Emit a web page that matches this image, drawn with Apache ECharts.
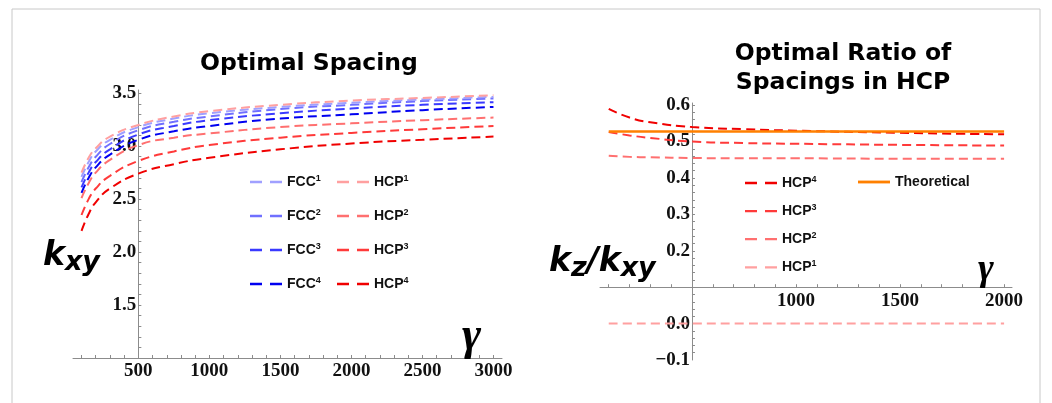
<!DOCTYPE html>
<html>
<head>
<meta charset="utf-8">
<script src="https://cdn.jsdelivr.net/npm/echarts@6/dist/echarts.min.js"></script>
<style>
html,body{margin:0;padding:0;background:#fff;}
#chart{width:1052px;height:403px;}
</style>
</head>
<body>
<div id="chart"></div>
<script>
// left panel: optimal spacing k_xy vs gamma
var gammaL = [100, 150, 200, 300, 500, 750, 1000, 1500, 2000, 2500, 3000];
var fcc1 = [2.71, 2.85, 2.95, 3.06, 3.18, 3.26, 3.31, 3.37, 3.41, 3.44, 3.465];
var fcc2 = [2.66, 2.80, 2.90, 3.02, 3.15, 3.23, 3.28, 3.35, 3.39, 3.425, 3.45];
var fcc3 = [2.61, 2.75, 2.85, 2.97, 3.11, 3.19, 3.245, 3.31, 3.355, 3.39, 3.415];
var fcc4 = [2.56, 2.70, 2.80, 2.92, 3.06, 3.14, 3.19, 3.26, 3.30, 3.34, 3.37];
var hcp1 = [2.75, 2.89, 2.98, 3.09, 3.20, 3.28, 3.33, 3.39, 3.43, 3.455, 3.48];
var hcp2 = [2.51, 2.65, 2.75, 2.87, 3.01, 3.08, 3.12, 3.18, 3.215, 3.245, 3.27];
var hcp3 = [2.35, 2.50, 2.60, 2.72, 2.86, 2.95, 3.01, 3.08, 3.125, 3.16, 3.19];
var hcp4 = [2.20, 2.36, 2.47, 2.60, 2.74, 2.83, 2.89, 2.97, 3.025, 3.06, 3.09];

// right panel: ratio k_z/k_xy vs gamma
var gammaR = [100, 200, 300, 500, 750, 1000, 1500, 2000];
var ratio4 = [0.59, 0.566, 0.553, 0.54, 0.534, 0.53, 0.524, 0.52];
var ratio3 = [0.526, 0.517, 0.51, 0.5, 0.496, 0.494, 0.491, 0.489];
var ratio2 = [0.461, 0.458, 0.457, 0.455, 0.454, 0.454, 0.453, 0.453];
var ratio1 = [0, 0, 0, 0, 0, 0, 0, 0];
var theory = [0.528, 0.528, 0.528, 0.528, 0.528, 0.528, 0.528, 0.528];

// ticks and labels
var xTicksL = [100,200,300,400,500,600,700,800,900,1000,1100,1200,1300,1400,1500,1600,1700,1800,1900,2000,2100,2200,2300,2400,2500,2600,2700,2800,2900,3000];
var xLabelsL = [500, 1000, 1500, 2000, 2500, 3000];
var yTicksL = [1.1,1.2,1.3,1.4,1.5,1.6,1.7,1.8,1.9,2.0,2.1,2.2,2.3,2.4,2.5,2.6,2.7,2.8,2.9,3.0,3.1,3.2,3.3,3.4,3.5];
var yLabelsL = [1.5, 2.0, 2.5, 3.0, 3.5];
var xTicksR = [100,200,300,400,500,600,700,800,900,1000,1100,1200,1300,1400,1500,1600,1700,1800,1900,2000];
var xLabelsR = [1000, 1500, 2000];
var yTicksR = [-0.08,-0.06,-0.04,-0.02,0,0.02,0.04,0.06,0.08,0.1,0.12,0.14,0.16,0.18,0.2,0.22,0.24,0.26,0.28,0.3,0.32,0.34,0.36,0.38,0.4,0.42,0.44,0.46,0.48,0.5,0.52,0.54,0.56,0.58,0.6];
var yLabelsR = [-0.1, 0, 0.2, 0.3, 0.4, 0.5, 0.6];

function pairs(xs, ys) {
	var out = [];
	for (var i = 0; i < xs.length; i++) out.push([xs[i], ys[i]]);
	return out;
}

var axisGray = '#8c8c8c';
var tickFont = {fontFamily: 'Liberation Serif', fontWeight: 'bold', fontSize: 19, color: '#111'};

function xAxisCfg(grid, min, max, ticks, labels) {
	return {
		gridIndex: grid, type: 'value', min: min, max: max,
		axisLine: {show: true, onZero: false, lineStyle: {color: axisGray, width: 1}},
		axisTick: {show: true, inside: true, length: 3, customValues: ticks, lineStyle: {color: axisGray}},
		axisLabel: Object.assign({
			customValues: labels, margin: 4,
			formatter: function (v) { return String(v); }
		}, tickFont),
		splitLine: {show: false}
	};
}
function yAxisCfg(grid, min, max, ticks, labels) {
	return {
		gridIndex: grid, type: 'value', min: min, max: max,
		axisLine: {show: true, onZero: false, lineStyle: {color: axisGray, width: 1}},
		axisTick: {show: true, inside: true, length: 3, customValues: ticks, lineStyle: {color: axisGray}},
		axisLabel: Object.assign({
			customValues: labels, margin: 2,
			formatter: function (v) { return v.toFixed(1).replace('-', '\u2212'); }
		}, tickFont),
		splitLine: {show: false}
	};
}

function dashed(name, xi, xs, ys, color) {
	return {
		name: name, type: 'line', xAxisIndex: xi, yAxisIndex: xi,
		data: pairs(xs, ys), symbol: 'none', showSymbol: false,
		smooth: true, silent: true, animation: false,
		itemStyle: {color: color},
		lineStyle: {color: color, width: 2, type: [9, 5]}
	};
}

var C = {
	fcc1: '#a0a0ff', fcc2: '#7070ff', fcc3: '#3a3aff', fcc4: '#0000f0',
	hcp1: '#ffa0a0', hcp2: '#ff7070', hcp3: '#ff3a3a', hcp4: '#f00000'
};

var legendText = {
	color: '#111',
	rich: {
		b: {fontFamily: 'Liberation Sans', fontWeight: 'bold', fontSize: 14, lineHeight: 16, color: '#111'},
		s: {fontFamily: 'Liberation Sans', fontWeight: 'bold', fontSize: 9, lineHeight: 10, verticalAlign: 'top', color: '#111'}
	}
};
function supName(name) {
	if (name === 'Theoretical') return '{b|' + name + '}';
	return '{b|' + name.slice(0, -1) + '}{s|' + name.slice(-1) + '}';
}
var dashIcon = 'path://M0,0h12v2.3h-12zM20,0h12v2.3h-12z';
var solidIcon = 'path://M0,0h34v3h-34z';
function legendCfg(names, icon, left, top, gap) {
	return {
		orient: 'vertical', left: left, top: top, padding: 0,
		itemWidth: 32, itemHeight: 14, itemGap: gap, icon: icon,
		data: names, formatter: supName, textStyle: legendText,
		selectedMode: false
	};
}

var labelRich = {
	k: {fontFamily: 'DejaVu Sans', fontWeight: 'bold', fontStyle: 'italic', fontSize: 33, lineHeight: 36, verticalAlign: 'top', color: '#000'},
	s: {fontFamily: 'DejaVu Sans', fontWeight: 'bold', fontStyle: 'italic', fontSize: 27, lineHeight: 26, verticalAlign: 'bottom', color: '#000'}
};
var titleStyle = {fontFamily: 'DejaVu Sans', fontWeight: 'bold', fontSize: 23.5, lineHeight: 29, color: '#000'};
var gammaStyle = {fontFamily: 'Liberation Serif', fontStyle: 'italic', fontWeight: 'bold', color: '#000'};

var chart = echarts.init(document.getElementById('chart'), null, {renderer: 'canvas'});

var option = {
	animation: false,
	backgroundColor: '#fff',
	graphic: [{
		type: 'rect', silent: true,
		shape: {x: 12, y: 9, width: 1028, height: 420},
		style: {fill: 'none', stroke: '#c8c8c8', lineWidth: 1}
	}],
	title: [
		{text: 'Optimal Spacing', left: 309, top: 49, textAlign: 'center', padding: 0, textStyle: titleStyle},
		{text: 'Optimal Ratio of\nSpacings in HCP', left: 843, top: 39, textAlign: 'center', padding: 0, textStyle: titleStyle},
		{text: '{k|k}{s|xy}', left: 43, top: 240, padding: 0, textStyle: {rich: labelRich}},
		{text: '{k|k}{s|z}{k|/k}{s|xy}', left: 549, top: 246, padding: 0, textStyle: {rich: labelRich}},
		{text: '\u03b3', left: 462, top: 314, padding: 0, textStyle: Object.assign({fontSize: 46, lineHeight: 46}, gammaStyle)},
		{text: '\u03b3', left: 978, top: 251, padding: 0, textStyle: Object.assign({fontSize: 38, lineHeight: 38}, gammaStyle)}
	],
	legend: [
		legendCfg(['FCC1', 'FCC2', 'FCC3', 'FCC4'], dashIcon, 250, 174, 19),
		legendCfg(['HCP1', 'HCP2', 'HCP3', 'HCP4'], dashIcon, 337, 174, 19),
		legendCfg(['HCP4', 'HCP3', 'HCP2', 'HCP1'], dashIcon, 745, 175, 13.1),
		legendCfg(['Theoretical'], solidIcon, 858, 175, 13.1)
	],
	grid: [
		{left: 73, top: 90, width: 429, height: 268, outerBoundsMode: 'none'},
		{left: 600, top: 103, width: 412, height: 257, outerBoundsMode: 'none'}
	],
	xAxis: [
		xAxisCfg(0, 40, 3060, xTicksL, xLabelsL),
		xAxisCfg(1, 58, 2038, xTicksR, xLabelsR)
	],
	yAxis: [
		yAxisCfg(0, 1.0, 3.53, yTicksL, yLabelsL),
		yAxisCfg(1, -0.1, 0.606, yTicksR, yLabelsR)
	],
	series: [
		dashed('HCP4', 0, gammaL, hcp4, C.hcp4),
		dashed('HCP3', 0, gammaL, hcp3, C.hcp3),
		dashed('HCP2', 0, gammaL, hcp2, C.hcp2),
		dashed('FCC4', 0, gammaL, fcc4, C.fcc4),
		dashed('FCC3', 0, gammaL, fcc3, C.fcc3),
		dashed('FCC2', 0, gammaL, fcc2, C.fcc2),
		dashed('FCC1', 0, gammaL, fcc1, C.fcc1),
		dashed('HCP1', 0, gammaL, hcp1, C.hcp1),
		dashed('HCP1', 1, gammaR, ratio1, C.hcp1),
		dashed('HCP2', 1, gammaR, ratio2, C.hcp2),
		dashed('HCP3', 1, gammaR, ratio3, C.hcp3),
		dashed('HCP4', 1, gammaR, ratio4, C.hcp4),
		{
			name: 'Theoretical', type: 'line', xAxisIndex: 1, yAxisIndex: 1,
			data: pairs(gammaR, theory), symbol: 'none', showSymbol: false,
			silent: true, animation: false,
			itemStyle: {color: '#ff8000'},
			lineStyle: {color: '#ff8000', width: 2.5, type: 'solid'}
		}
	]
};
chart.setOption(option);

// move the axes so they cross where the original crosses:
// y axes at gamma = 500, right x axis at k_z/k_xy = 0.1
var leftEdgeL = chart.convertToPixel({xAxisIndex: 0}, 40);
var cross500L = chart.convertToPixel({xAxisIndex: 0}, 500);
var leftEdgeR = chart.convertToPixel({xAxisIndex: 1}, 58);
var cross500R = chart.convertToPixel({xAxisIndex: 1}, 500);
var bottomR = chart.convertToPixel({yAxisIndex: 1}, -0.1);
var cross01R = chart.convertToPixel({yAxisIndex: 1}, 0.1);
chart.setOption({
	yAxis: [{offset: leftEdgeL - cross500L}, {offset: leftEdgeR - cross500R}],
	xAxis: [{}, {offset: cross01R - bottomR}]
});
</script>
</body>
</html>
